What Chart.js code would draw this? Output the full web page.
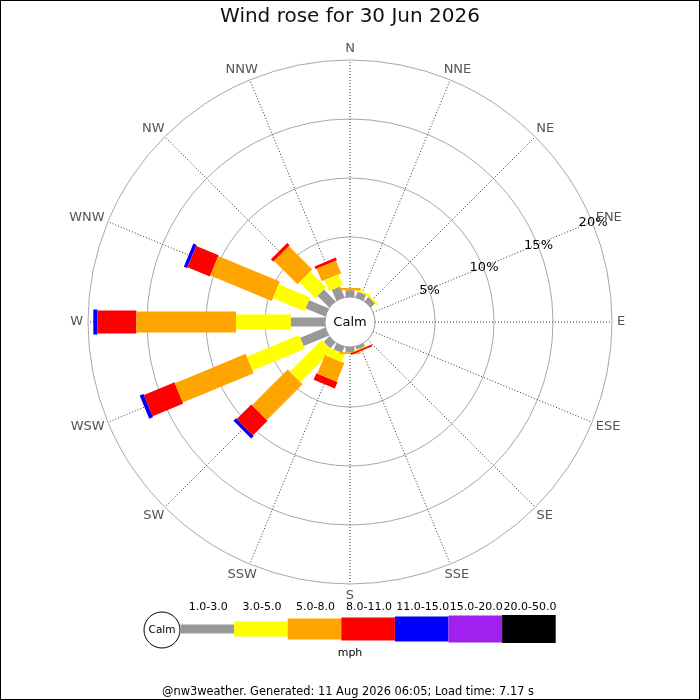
<!DOCTYPE html>
<html><head><meta charset="utf-8">
<script src="https://cdn.jsdelivr.net/npm/chart.js@4"></script>
<style>html,body{margin:0;padding:0;background:#fff}canvas{display:block}</style>
</head><body>
<canvas id="c" width="700" height="700"></canvas>
<script>
// ---------- data ----------
const directions = ['N','NNE','NE','ENE','E','ESE','SE','SSE','S','SSW','SW','WSW','W','WNW','NW','NNW'];
const speedBands = ['1.0-3.0','3.0-5.0','5.0-8.0','8.0-11.0','11.0-15.0','15.0-20.0','20.0-50.0'];
// percent of time per direction, for each speed band (mph)
const band1to3   = [0.48, 0.42, 0.40, 0, 0, 0, 0, 0.17, 0.36, 0.47, 0.55, 2.20, 2.80, 1.70, 1.30, 0.90];
const band3to5   = [0,    0.18, 0.15, 0, 0, 0, 0, 0.05, 0,    0.73, 3.82, 4.80, 4.66, 2.90, 1.90, 1.00];
const band5to8   = [0.20, 0,    0,    0, 0, 0, 0, 0.05, 0.15, 1.70, 4.28, 6.50, 8.44, 5.65, 2.80, 1.15];
const band8to11  = [0,    0,    0,    0, 0, 0, 0, 0.15, 0,    0.60, 1.75, 2.80, 3.30, 2.05, 0.30, 0.25];
const band11to15 = [0,    0,    0,    0, 0, 0, 0, 0,    0,    0,    0.30, 0.35, 0.35, 0.30, 0,    0];
const band15to20 = [0,    0,    0,    0, 0, 0, 0, 0,    0,    0,    0,    0,    0,    0,    0,    0];
const band20to50 = [0,    0,    0,    0, 0, 0, 0, 0,    0,    0,    0,    0,    0,    0,    0,    0];
const bandSeries = [band1to3, band3to5, band5to8, band8to11, band11to15, band15to20, band20to50];
const ringTicks = [5, 10, 15, 20];
const ringTickLabels = ['5%', '10%', '15%', '20%'];
const titleText = 'Wind rose for 30 Jun 2026';
const unitText = 'mph';
const footerText = '@nw3weather. Generated: 11 Aug 2026 06:05; Load time: 7.17 s';

// ---------- styles / geometry ----------
const bandColors = ['#999999','#ffff00','#ffa500','#ff0000','#0000ff','#a020f0','#000000'];
const bandWidths = [9, 15, 21, 23, 25, 27, 28];
const W = 700, H = 700, CX = 350, CY = 322;
const PX_PER_PCT = 11.8, ZERO_PX = 26, CALM_PX = 25, LABEL_PX = 267;
const FONT = '"DejaVu Sans", Verdana, sans-serif';
const ZERO_U = ZERO_PX / PX_PER_PCT;
const deg = Math.PI / 180;

// ---------- datasets ----------
const datasets = [];
directions.forEach((dir, d) => {
  const th = d * 22.5 * deg;
  let cum = 0;
  bandSeries.forEach((series, b) => {
    const v = series[d];
    if (v > 0) {
      const r1 = (cum === 0) ? CALM_PX / PX_PER_PCT : ZERO_U + cum;
      const r2 = ZERO_U + cum + v;
      datasets.push({
        label: dir + ' ' + speedBands[b],
        data: [{x: r1 * Math.sin(th), y: r1 * Math.cos(th)}, {x: r2 * Math.sin(th), y: r2 * Math.cos(th)}],
        showLine: true,
        borderColor: bandColors[b],
        backgroundColor: bandColors[b],
        borderWidth: bandWidths[b],
        borderCapStyle: 'butt',
        borderJoinStyle: 'bevel',
        cubicInterpolationMode: 'monotone',
        pointRadius: 0,
        pointHoverRadius: 0,
        fill: false
      });
    }
    cum += v;
  });
});

function geo(chart) {
  const xs = chart.scales.x, ys = chart.scales.y;
  const cx = xs.getPixelForValue(0), cy = ys.getPixelForValue(0);
  const k = xs.getPixelForValue(1) - cx;
  return {cx, cy, k};
}

const rosePlugin = {
  id: 'rose',
  beforeDraw(chart) {
    const ctx = chart.ctx;
    ctx.save();
    ctx.fillStyle = '#ffffff';
    ctx.fillRect(0, 0, chart.width, chart.height);
    ctx.restore();
  },
  beforeDatasetsDraw(chart) {
    const ctx = chart.ctx;
    const {cx, cy, k} = geo(chart);
    ctx.save();
    // rings
    ctx.strokeStyle = '#a8a8a8';
    ctx.lineWidth = 1;
    ringTicks.forEach(t => {
      ctx.beginPath();
      ctx.arc(cx, cy, (ZERO_U + t) * k, 0, 2 * Math.PI);
      ctx.stroke();
    });
    // spokes
    const outer = (ZERO_U + ringTicks[ringTicks.length - 1]) * k;
    ctx.strokeStyle = '#333333';
    ctx.setLineDash([1, 2]);
    directions.forEach((dir, d) => {
      const th = d * 22.5 * deg;
      ctx.beginPath();
      ctx.moveTo(cx + CALM_PX * Math.sin(th), cy - CALM_PX * Math.cos(th));
      ctx.lineTo(cx + outer * Math.sin(th), cy - outer * Math.cos(th));
      ctx.stroke();
    });
    ctx.restore();
  },
  afterDatasetsDraw(chart) {
    const ctx = chart.ctx;
    const {cx, cy, k} = geo(chart);
    ctx.save();
    ctx.setLineDash([]);
    // calm circle
    ctx.beginPath();
    ctx.arc(cx, cy, CALM_PX, 0, 2 * Math.PI);
    ctx.fillStyle = '#ffffff';
    ctx.fill();
    ctx.strokeStyle = '#999999';
    ctx.lineWidth = 1;
    ctx.stroke();
    ctx.fillStyle = '#000000';
    ctx.font = '13px ' + FONT;
    ctx.textAlign = 'center';
    ctx.textBaseline = 'middle';
    ctx.fillText('Calm', cx, cy + 1);
    // ring labels along ENE
    const la = 67.5 * deg;
    ringTicks.forEach((t, i) => {
      const r = (ZERO_U + t) * k;
      ctx.fillText(ringTickLabels[i], cx + r * Math.sin(la) + 1, cy - r * Math.cos(la) + 1);
    });
    // direction labels
    ctx.fillStyle = '#555555';
    ctx.font = '13px ' + FONT;
    directions.forEach((dir, d) => {
      const th = d * 22.5 * deg;
      const s = Math.sin(th), c = Math.cos(th);
      const w = ctx.measureText(dir).width, h = 13;
      const x = cx + LABEL_PX * s + s * w / 2;
      const y = cy - LABEL_PX * c - c * h / 2;
      ctx.fillText(dir, x, y);
    });
    // title
    ctx.fillStyle = '#111111';
    ctx.font = '20px ' + FONT;
    ctx.fillText(titleText, W / 2, 17);
    // legend
    const lx = 162, ly = 630, lr = 18, segW = 53.6;
    ctx.beginPath();
    ctx.arc(lx, ly, lr, 0, 2 * Math.PI);
    ctx.fillStyle = '#ffffff';
    ctx.fill();
    ctx.strokeStyle = '#000000';
    ctx.lineWidth = 1;
    ctx.stroke();
    ctx.fillStyle = '#000000';
    ctx.font = '10.5px ' + FONT;
    ctx.fillText('Calm', lx, ly);
    speedBands.forEach((lab, b) => {
      const x0 = lx + lr + 0.5 + b * segW;
      const hgt = bandWidths[b];
      ctx.fillStyle = bandColors[b];
      ctx.fillRect(x0, 629 - hgt / 2, segW, hgt);
      ctx.fillStyle = '#000000';
      ctx.font = '11px ' + FONT;
      ctx.fillText(lab, x0 + segW / 2 + 1, 607);
    });
    ctx.fillText(unitText, W / 2, 653);
    ctx.font = '11.4px ' + FONT;
    ctx.fillText(footerText, W / 2 - 2, 692);
    // border
    ctx.strokeStyle = '#000000';
    ctx.lineWidth = 1;
    ctx.strokeRect(0.5, 0.5, W - 1, H - 1);
    ctx.restore();
  }
};

new Chart(document.getElementById('c'), {
  type: 'scatter',
  data: { datasets },
  options: {
    responsive: false,
    animation: false,
    devicePixelRatio: 1,
    layout: { padding: 0 },
    events: [],
    plugins: { legend: { display: false }, title: { display: false }, tooltip: { enabled: false } },
    scales: {
      x: { type: 'linear', display: false, min: -CX / PX_PER_PCT, max: (W - CX) / PX_PER_PCT },
      y: { type: 'linear', display: false, min: -(H - CY) / PX_PER_PCT, max: CY / PX_PER_PCT }
    }
  },
  plugins: [rosePlugin]
});
</script>
</body></html>
